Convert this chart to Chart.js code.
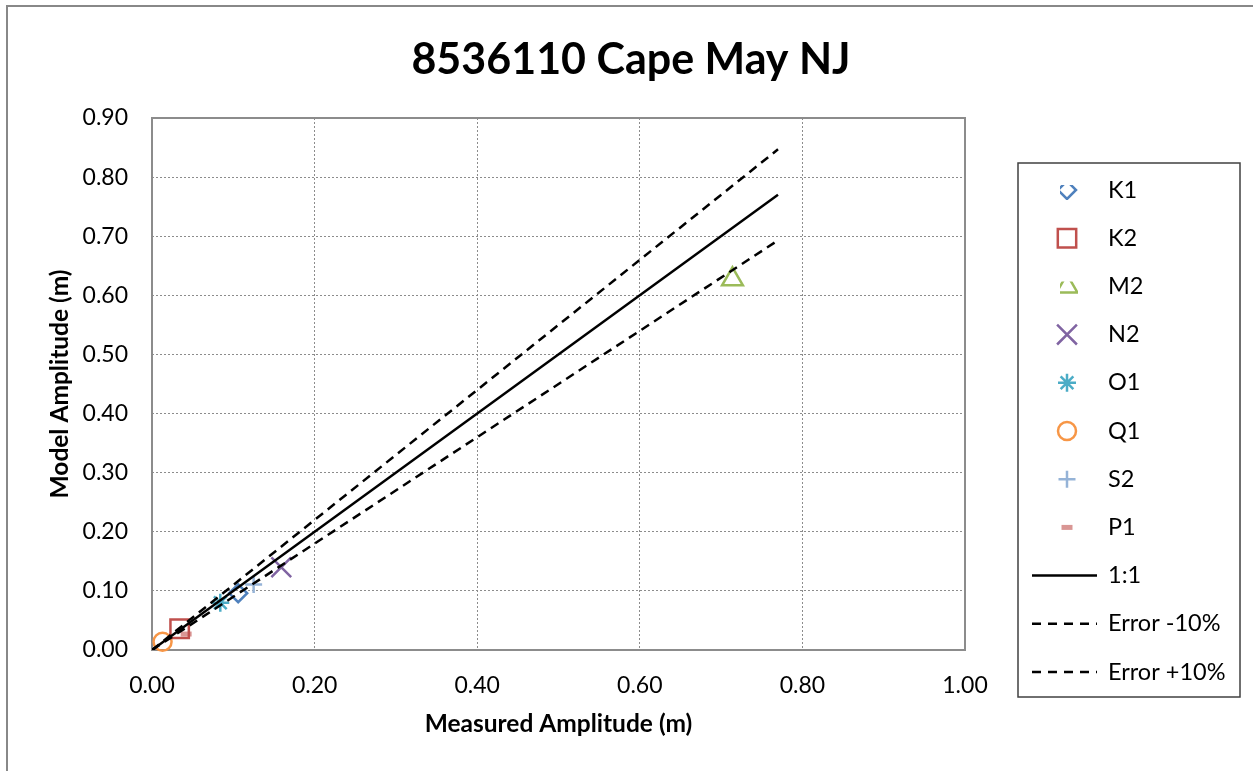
<!DOCTYPE html>
<html>
<head>
<meta charset="utf-8">
<script src="https://cdn.jsdelivr.net/npm/chart.js@4.4.0/dist/chart.umd.min.js"></script>
<style>
    html, body { margin: 0; padding: 0; background: #fff; }
    #wrap { width: 1253px; height: 771px; }
</style>
</head>
<body>
<div id="wrap"><canvas id="ampChart" width="1253" height="771"></canvas></div>
<script>
// tidal constituents, measured vs model amplitude (m)
const constituents = ['K1', 'K2', 'M2', 'N2', 'O1', 'Q1', 'S2', 'P1'];
const measuredAmp = [0.106, 0.034, 0.714, 0.159, 0.084, 0.013, 0.125, 0.042];
const modelAmp = [0.096, 0.036, 0.627, 0.140, 0.080, 0.014, 0.111, 0.027];

// reference lines
const refX = [0, 0.77];
const oneToOne = [0, 0.77];
const errorMinus = [0, 0.693];
const errorPlus = [0, 0.847];
const refLabels = ['1:1', 'Error -10%', 'Error +10%'];

const xTickValues = [0, 0.2, 0.4, 0.6, 0.8, 1.0];
const yTickValues = [0, 0.1, 0.2, 0.3, 0.4, 0.5, 0.6, 0.7, 0.8, 0.9];

// marker looks (Excel default palette)
const markerStyles = ['rectRot', 'rect', 'triangle', 'crossRot', 'star', 'circle', 'cross', 'line'];
const markerColors = ['#4F81BD', '#C0504D', '#9BBB59', '#8064A2', '#4BACC6', '#F79646', '#95B3D7', '#D99694'];
const markerRadius = [9, 13, 12, 14, 9, 9, 8.5, 5.5];

const FONT = 'Lato, "Open Sans", sans-serif';

function toPoints(xs, ys) {
    return xs.map((x, i) => ({ x: x, y: ys[i] }));
}

const datasets = [];

constituents.forEach((name, i) => {
    datasets.push({
        label: name,
        data: [{ x: measuredAmp[i], y: modelAmp[i] }],
        pointStyle: markerStyles[i],
        pointRadius: markerRadius[i],
        pointBorderColor: markerColors[i],
        pointBackgroundColor: 'rgba(0,0,0,0)',
        pointBorderWidth: markerStyles[i] === 'line' ? 5 : 2.5,
        borderColor: markerColors[i],
        clip: false,
        order: 2,
    });
});

[oneToOne, errorMinus, errorPlus].forEach((ys, i) => {
    datasets.push({
        label: refLabels[i],
        data: toPoints(refX, ys),
        showLine: true,
        pointRadius: 0,
        borderColor: '#000',
        borderWidth: 2.5,
        borderDash: i === 0 ? [] : [9, 6],
        order: 1,
    });
});

const framePlugin = {
    id: 'frame',
    beforeDraw: (chart) => {
        const { ctx } = chart;
        ctx.save();
        ctx.fillStyle = '#fff';
        ctx.fillRect(0, 0, chart.width, chart.height);
        // outer chart border (runs off the right and bottom edges)
        ctx.strokeStyle = '#888';
        ctx.lineWidth = 2;
        ctx.beginPath();
        ctx.moveTo(7, chart.height + 2);
        ctx.lineTo(7, 6);
        ctx.lineTo(chart.width + 2, 6);
        ctx.stroke();

        // title
        ctx.fillStyle = '#000';
        ctx.font = 'bold 43px ' + FONT;
        ctx.textAlign = 'center';
        ctx.textBaseline = 'middle';
        ctx.fillText('8536110 Cape May NJ', 631, 60);
        ctx.restore();
    },
    beforeDatasetsDraw: (chart) => {
        const { ctx, chartArea } = chart;
        ctx.save();
        ctx.strokeStyle = '#8c8c8c';
        ctx.lineWidth = 2;
        ctx.strokeRect(chartArea.left, chartArea.top, chartArea.right - chartArea.left, chartArea.bottom - chartArea.top);
        ctx.restore();
    },
    afterDraw: (chart) => {
        const { ctx } = chart;
        const boxX = 1018, boxY = 163, boxW = 222, boxH = 534;
        const rowY0 = 190, rowStep = 48.2;
        const markX = 1067, textX = 1108;

        ctx.save();
        ctx.strokeStyle = '#404040';
        ctx.lineWidth = 1.5;
        ctx.strokeRect(boxX, boxY, boxW, boxH);

        chart.data.datasets.forEach((ds, i) => {
            const y = rowY0 + i * rowStep;
            ctx.save();
            if (ds.showLine) {
                ctx.strokeStyle = ds.borderColor;
                ctx.lineWidth = ds.borderWidth;
                ctx.setLineDash(ds.borderDash.length ? [9, 7] : []);
                ctx.beginPath();
                ctx.moveTo(1032, y);
                ctx.lineTo(1097, y);
                ctx.stroke();
            } else {
                // Excel clips the bigger legend symbols
                if (ds.pointStyle === 'rectRot' || ds.pointStyle === 'triangle') {
                    ctx.beginPath();
                    ctx.rect(markX - 7, y - 5, 18, 15);
                    ctx.clip();
                }
                ctx.strokeStyle = ds.pointBorderColor;
                ctx.fillStyle = ds.pointBackgroundColor;
                ctx.lineWidth = ds.pointBorderWidth;
                Chart.helpers.drawPoint(ctx, {
                    pointStyle: ds.pointStyle,
                    radius: ds.pointRadius,
                    rotation: 0,
                    borderWidth: ds.pointBorderWidth,
                }, markX, y);
            }
            ctx.restore();

            ctx.fillStyle = '#000';
            ctx.font = '23.5px ' + FONT;
            ctx.textAlign = 'left';
            ctx.textBaseline = 'middle';
            ctx.fillText(ds.label, textX, y);
        });
        ctx.restore();
    },
};

new Chart(document.getElementById('ampChart'), {
    type: 'scatter',
    data: { datasets: datasets },
    options: {
        responsive: false,
        animation: false,
        devicePixelRatio: 1,
        layout: {
            padding: { top: 118, right: 288, left: 0, bottom: 0 },
        },
        plugins: {
            legend: { display: false },
            tooltip: { enabled: false },
        },
        scales: {
            x: {
                type: 'linear',
                min: 0,
                max: 1,
                afterBuildTicks: (scale) => {
                    scale.ticks = xTickValues.map((v) => ({ value: v }));
                },
                afterFit: (scale) => { scale.height = 121; },
                ticks: {
                    callback: (v) => v.toFixed(2),
                    color: '#000',
                    font: { family: FONT, size: 23 },
                    padding: 22,
                    maxRotation: 0,
                },
                grid: { color: '#8c8c8c', drawTicks: false, lineWidth: 1 },
                border: { display: false, dash: [2, 2] },
                title: {
                    display: true,
                    text: 'Measured Amplitude (m)',
                    color: '#000',
                    font: { family: FONT, size: 24.5, weight: 'bold' },
                    padding: { top: 0, bottom: 32 },
                },
            },
            y: {
                type: 'linear',
                min: 0,
                max: 0.9,
                afterBuildTicks: (scale) => {
                    scale.ticks = yTickValues.map((v) => ({ value: v }));
                },
                afterFit: (scale) => { scale.width = 152; },
                ticks: {
                    callback: (v) => v.toFixed(2),
                    color: '#000',
                    font: { family: FONT, size: 23 },
                    padding: 24,
                },
                grid: { color: '#8c8c8c', drawTicks: false, lineWidth: 1 },
                border: { display: false, dash: [2, 2] },
                title: {
                    display: true,
                    text: 'Model Amplitude (m)',
                    color: '#000',
                    font: { family: FONT, size: 24.5, weight: 'bold' },
                    padding: { top: 45, bottom: 0 },
                },
            },
        },
    },
    plugins: [framePlugin],
});
</script>
</body>
</html>
